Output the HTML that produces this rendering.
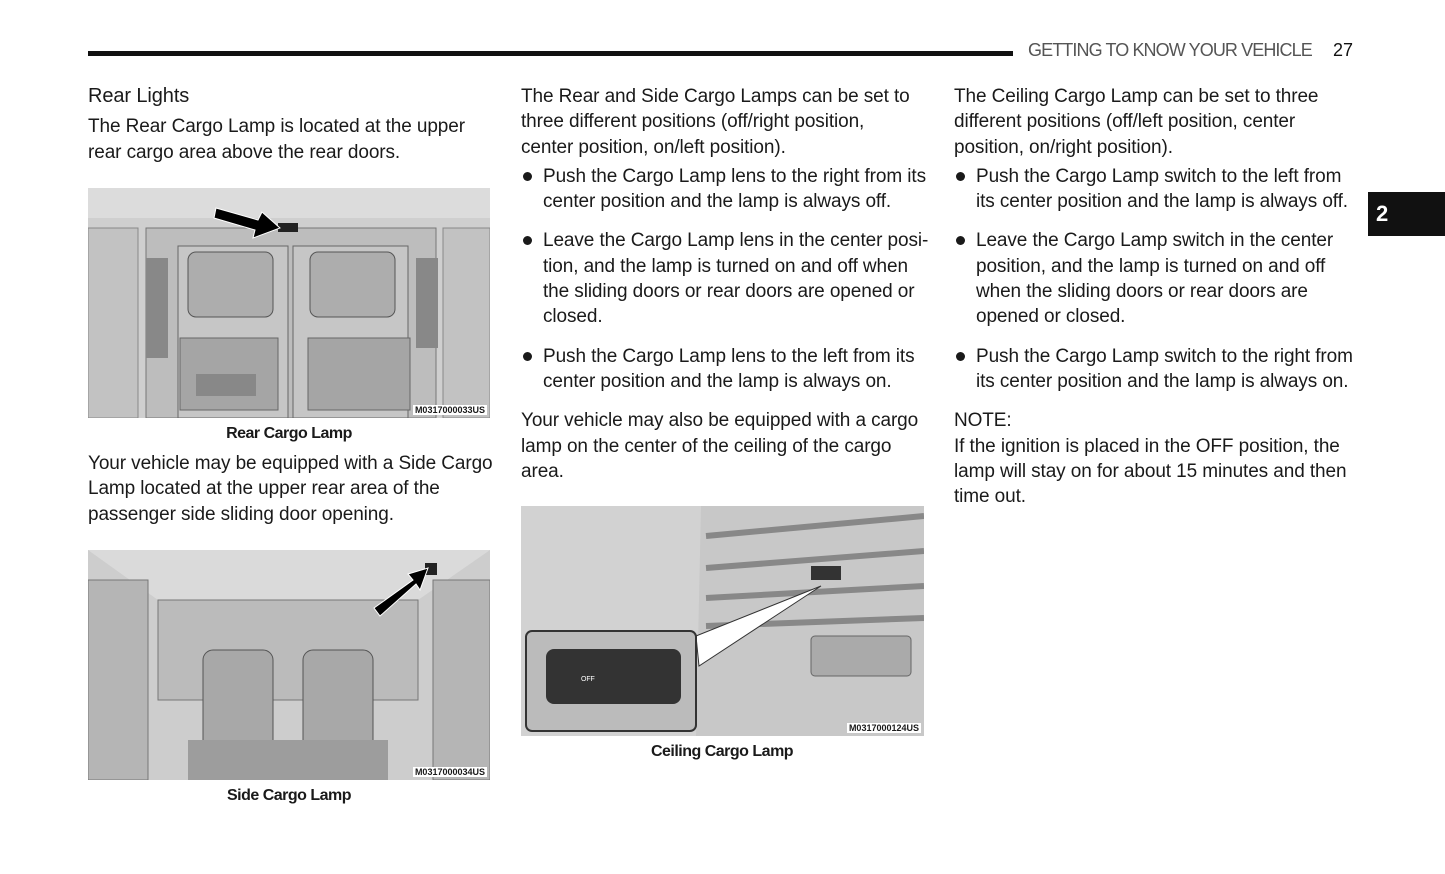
<!DOCTYPE html>
<html><head><meta charset="utf-8"><style>
*{margin:0;padding:0;box-sizing:border-box}
body{width:1445px;height:874px;background:#fff;position:relative;overflow:hidden;font-family:"Liberation Sans",sans-serif;color:#1a1a1a;font-size:19px;line-height:25.3px;letter-spacing:-0.1px}
.a{position:absolute;white-space:nowrap}
p{margin:0}
ul{list-style:none}
li{position:relative;padding-left:22px}
li:before{content:"";position:absolute;left:2px;top:8px;width:9px;height:9px;border-radius:50%;background:#1a1a1a}
.cap{position:absolute;font-weight:bold;font-size:16px;text-align:center;width:402px;letter-spacing:-0.5px}
.code{position:absolute;right:3px;bottom:3px;background:#fff;font-size:9px;line-height:10px;font-weight:bold;padding:0 2px;letter-spacing:0}
</style></head><body>
<div class="a" style="left:88px;top:51px;width:925px;height:5px;background:#111"></div>
<div class="a" style="left:1028px;top:38px;font-size:18px;color:#555;letter-spacing:-0.9px">GETTING TO KNOW YOUR VEHICLE</div>
<div class="a" style="left:1333px;top:38px;font-size:18px;color:#111;letter-spacing:0">27</div>
<div class="a" style="left:1368px;top:192px;width:77px;height:44px;background:#111;color:#fff;font-weight:bold;font-size:22px;line-height:44px;padding-left:8px">2</div>

<div class="a" style="left:88px;top:84px">
<p style="font-size:20px;margin-bottom:5px">Rear Lights</p>
<p>The Rear Cargo Lamp is located at the upper<br>rear cargo area above the rear doors.</p>
</div>

<div class="a" style="left:88px;top:188px;width:402px;height:230px;background:#c9c9c9;overflow:hidden">
<svg width="402" height="230">
<rect width="402" height="230" fill="#cfcfcf"/>
<polygon points="0,0 402,0 402,30 0,30" fill="#dcdcdc"/>
<rect x="58" y="40" width="290" height="190" fill="#bdbdbd" stroke="#777"/>
<rect x="0" y="40" width="50" height="190" fill="#c2c2c2" stroke="#888"/>
<rect x="355" y="40" width="47" height="190" fill="#c2c2c2" stroke="#888"/>
<rect x="90" y="58" width="110" height="172" fill="#c6c6c6" stroke="#666"/>
<rect x="205" y="58" width="115" height="172" fill="#c6c6c6" stroke="#666"/>
<rect x="100" y="64" width="85" height="65" rx="8" fill="#adadad" stroke="#555"/>
<rect x="222" y="64" width="85" height="65" rx="8" fill="#adadad" stroke="#555"/>
<rect x="92" y="150" width="98" height="72" fill="#a5a5a5" stroke="#666"/>
<rect x="220" y="150" width="102" height="72" fill="#a5a5a5" stroke="#666"/>
<rect x="108" y="186" width="60" height="22" fill="#888"/>
<rect x="58" y="70" width="22" height="100" fill="#888"/>
<rect x="328" y="70" width="22" height="90" fill="#888"/>
<rect x="190" y="35" width="20" height="9" fill="#222"/>
<polygon points="128,20 170,32 174,24 192,40 165,50 167,42 126,30" fill="#000" stroke="#fff"/>
</svg>
<div class="code">M0317000033US</div>
</div>
<div class="cap" style="left:88px;top:421px">Rear Cargo Lamp</div>

<div class="a" style="left:88px;top:451px">
<p>Your vehicle may be equipped with a Side Cargo<br>Lamp located at the upper rear area of the<br>passenger side sliding door opening.</p>
</div>

<div class="a" style="left:88px;top:550px;width:402px;height:230px;background:#c9c9c9;overflow:hidden">
<svg width="402" height="230">
<rect width="402" height="230" fill="#cdcdcd"/>
<polygon points="0,0 402,0 330,50 70,50" fill="#dadada"/>
<rect x="70" y="50" width="260" height="100" fill="#bbb" stroke="#777"/>
<rect x="0" y="30" width="60" height="200" fill="#b5b5b5" stroke="#777"/>
<rect x="345" y="30" width="57" height="200" fill="#b5b5b5" stroke="#777"/>
<rect x="115" y="100" width="70" height="100" rx="10" fill="#a8a8a8" stroke="#555"/>
<rect x="215" y="100" width="70" height="100" rx="10" fill="#a8a8a8" stroke="#555"/>
<rect x="100" y="190" width="200" height="40" fill="#9d9d9d"/>
<rect x="337" y="13" width="12" height="12" fill="#222"/>
<polygon points="286,58 325,30 320,24 340,18 332,40 328,34 292,66" fill="#000" stroke="#fff"/>
</svg>
<div class="code">M0317000034US</div>
</div>
<div class="cap" style="left:88px;top:783px">Side Cargo Lamp</div>

<div class="a" style="left:521px;top:84px">
<p>The Rear and Side Cargo Lamps can be set to<br>three different positions (off/right position,<br>center position, on/left position).</p>
<ul style="margin-top:4px">
<li>Push the Cargo Lamp lens to the right from its<br>center position and the lamp is always off.</li>
<li style="margin-top:14px">Leave the Cargo Lamp lens in the center posi-<br>tion, and the lamp is turned on and off when<br>the sliding doors or rear doors are opened or<br>closed.</li>
<li style="margin-top:14px">Push the Cargo Lamp lens to the left from its<br>center position and the lamp is always on.</li>
</ul>
<p style="margin-top:14px">Your vehicle may also be equipped with a cargo<br>lamp on the center of the ceiling of the cargo<br>area.</p>
</div>

<div class="a" style="left:521px;top:506px;width:403px;height:230px;overflow:hidden">
<svg width="403" height="230">
<rect width="403" height="230" fill="#c8c8c8"/>
<polygon points="0,0 180,0 175,230 0,230" fill="#d2d2d2"/>
<g stroke="#888" stroke-width="6">
<line x1="185" y1="30" x2="403" y2="10"/><line x1="185" y1="62" x2="403" y2="45"/><line x1="185" y1="92" x2="403" y2="80"/><line x1="185" y1="120" x2="403" y2="112"/>
</g>
<rect x="290" y="130" width="100" height="40" rx="4" fill="#aaa" stroke="#666"/>
<rect x="290" y="60" width="30" height="14" fill="#333"/>
<polygon points="175,130 300,80 178,160" fill="#fff" stroke="#333"/>
<rect x="5" y="125" width="170" height="100" rx="6" fill="#bbb" stroke="#333" stroke-width="2"/>
<rect x="25" y="143" width="135" height="55" rx="8" fill="#333"/>
<text x="60" y="175" font-size="7" fill="#fff" font-family="Liberation Sans">OFF</text>
</svg>
<div class="code">M0317000124US</div>
</div>
<div class="cap" style="left:521px;top:739px">Ceiling Cargo Lamp</div>

<div class="a" style="left:954px;top:84px">
<p>The Ceiling Cargo Lamp can be set to three<br>different positions (off/left position, center<br>position, on/right position).</p>
<ul style="margin-top:4px">
<li>Push the Cargo Lamp switch to the left from<br>its center position and the lamp is always off.</li>
<li style="margin-top:14px">Leave the Cargo Lamp switch in the center<br>position, and the lamp is turned on and off<br>when the sliding doors or rear doors are<br>opened or closed.</li>
<li style="margin-top:14px">Push the Cargo Lamp switch to the right from<br>its center position and the lamp is always on.</li>
</ul>
<p style="margin-top:14px">NOTE:</p>
<p>If the ignition is placed in the OFF position, the<br>lamp will stay on for about 15 minutes and then<br>time out.</p>
</div>
</body></html>
